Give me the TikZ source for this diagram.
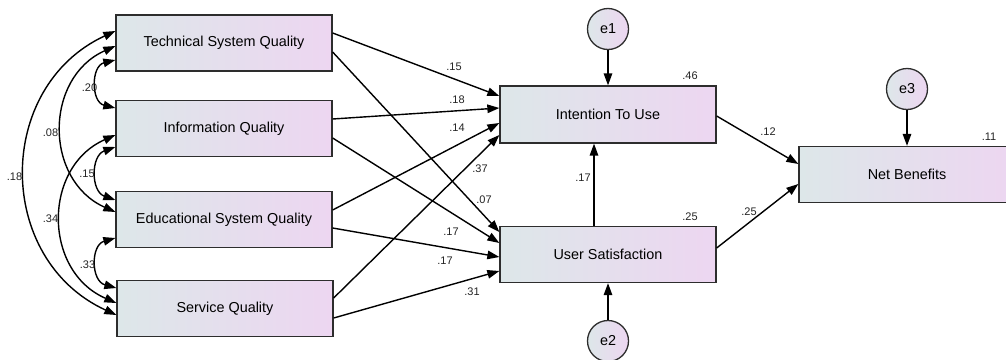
\documentclass[tikz,border=0pt]{standalone}
\usepackage{fontspec}
\setmainfont{Liberation Sans}
\usetikzlibrary{arrows.meta}
\definecolor{boxleft}{RGB}{221,231,233}
\definecolor{boxright}{RGB}{237,214,241}
\definecolor{edge}{RGB}{45,45,45}
\definecolor{lbltext}{RGB}{35,35,35}
\begin{document}
\begin{tikzpicture}[x=1pt,y=-1pt,
  var/.style={draw=edge, line width=1.3pt, left color=boxleft, right color=boxright,
    minimum width=216pt, minimum height=56pt, inner sep=0pt,
    font=\fontsize{14.4}{17}\selectfont},
  err/.style={circle, draw=edge, line width=1.3pt, left color=boxleft, right color=boxright,
    minimum size=41pt, inner sep=0pt, font=\fontsize{14.4}{17}\selectfont},
  tip/.tip={Triangle[length=12pt,width=8.5pt]},
  reg/.style={draw=black, line width=1.4pt, -tip},
  cov/.style={draw=black, line width=1.4pt, tip-tip},
  lbl/.style={font=\fontsize{11}{13}\selectfont, text=lbltext, inner sep=0pt}
]
\useasboundingbox (0,0) rectangle (1006,359);

% observed variables
\node[var] (tsq) at (224,43) {Technical System Quality};
\node[var] (iq)  at (224,128.5) {Information Quality};
\node[var] (esq) at (224,219.5) {Educational System Quality};
\node[var] (sq)  at (225,308.5) {Service Quality};
\node[var, minimum height=57pt] (itu) at (608,114.5) {Intention To Use};
\node[var] (us)  at (608,254.5) {User Satisfaction};
\node[var] (nb)  at (907,174.5) {Net Benefits};

% error terms
\node[err] (e1) at (608,29) {e1};
\node[err] (e2) at (608,341) {e2};
\node[err] (e3) at (907,89) {e3};

% regression paths
\draw[reg] (tsq.east |- 0,33)  -- (itu.west |- 0,96);
\draw[reg] (tsq.east |- 0,52)  -- (us.west |- 0,232);
\draw[reg] (iq.east |- 0,119)  -- (itu.west |- 0,108);
\draw[reg] (iq.east |- 0,138)  -- (us.west |- 0,243);
\draw[reg] (esq.east |- 0,210) -- (itu.west |- 0,123);
\draw[reg] (esq.east |- 0,228) -- (us.west |- 0,257);
\draw[reg] (sq.east |- 0,298)  -- (itu.west |- 0,135);
\draw[reg] (sq.east |- 0,318)  -- (us.west |- 0,271);
\draw[reg] (594,0 |- us.north) -- (594,0 |- itu.south);
\draw[reg] (itu.east |- 0,116) -- (nb.west |- 0,164);
\draw[reg] (us.east |- 0,248)  -- (nb.west |- 0,184);
\draw[reg] (e1.south) -- (e1 |- itu.north);
\draw[reg] (e2.north) -- (e2 |- us.south);
\draw[reg] (e3.south) -- (e3 |- nb.north);

% covariances among the exogenous variables
\draw[cov] (tsq.west |- 0,60)  .. controls (90.9,66) and (90.9,102) .. (iq.west |- 0,108);
\draw[cov] (tsq.west |- 0,46)  .. controls (44,77.9) and (44,180.1) .. (esq.west |- 0,212);
\draw[cov] (tsq.west |- 0,31)  .. controls (-5.3,86.8) and (-5.3,259.2) .. (sq.west |- 0,315);
\draw[cov] (iq.west |- 0,147)  .. controls (90.7,155.6) and (90.7,191.4) .. (esq.west |- 0,200);
\draw[cov] (iq.west |- 0,135)  .. controls (42.7,167) and (42.7,271) .. (sq.west |- 0,303);
\draw[cov] (esq.west |- 0,238) .. controls (90.65,245.05) and (90.65,280.95) .. (sq.west |- 0,288);

% covariance estimates
\node[lbl] (c1) at (89.5,88) {.20};
\node[lbl] (c2) at (50.5,133) {.08};
\node[lbl] (c3) at (14.5,177) {.18};
\node[lbl] (c4) at (87,174) {.15};
\node[lbl] (c5) at (50.5,219) {.34};
\node[lbl] (c6) at (87.5,265) {.33};

% path coefficients
\node[lbl] (p1) at (454,67) {.15};
\node[lbl] (p2) at (457,100) {.18};
\node[lbl] (p3) at (457,128) {.14};
\node[lbl] (p4) at (480,169) {.37};
\node[lbl] (p5) at (484,200) {.07};
\node[lbl] (p6) at (451,232) {.17};
\node[lbl] (p7) at (445,261) {.17};
\node[lbl] (p8) at (472,292) {.31};
\node[lbl] (p9) at (583,178) {.17};
\node[lbl] (p10) at (768,132) {.12};
\node[lbl] (p11) at (749,212) {.25};

% squared multiple correlations
\node[lbl] (r1) at (690,76) {.46};
\node[lbl] (r2) at (690,217) {.25};
\node[lbl] (r3) at (989,137) {.11};
\end{tikzpicture}
\end{document}
